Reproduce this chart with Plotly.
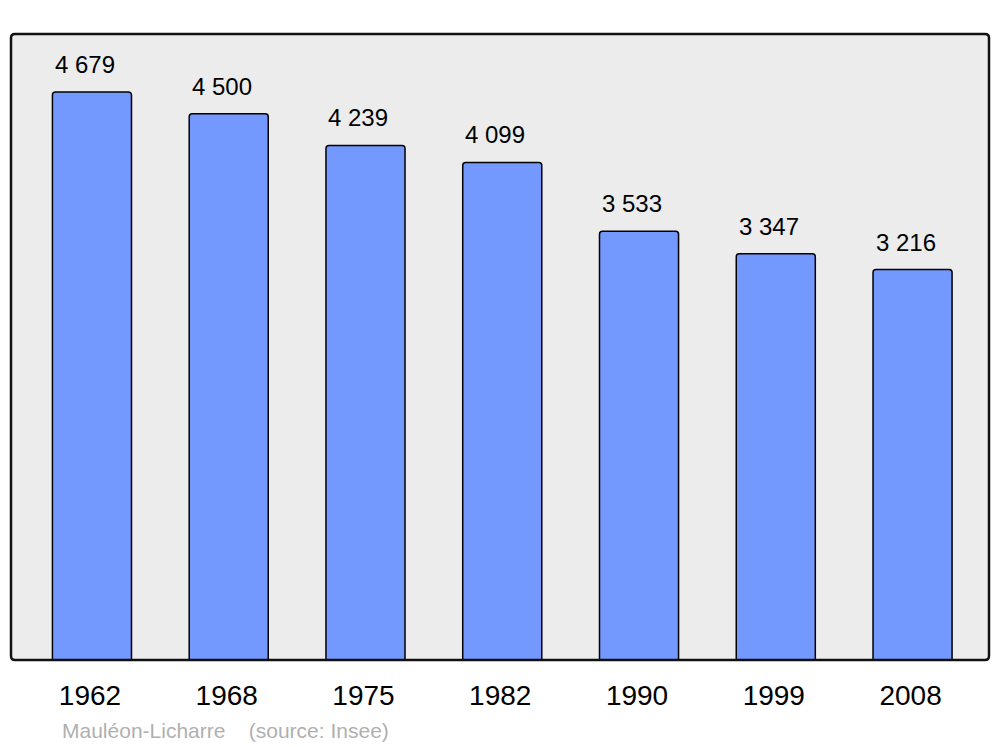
import plotly.graph_objects as go

years = ["1962", "1968", "1975", "1982", "1990", "1999", "2008"]
population = [4679, 4500, 4239, 4099, 3533, 3347, 3216]
caption = "Mauléon-Licharre&nbsp;&nbsp;&nbsp;&nbsp;(source: Insee)"

W, H = 1000, 747
L, R, T, B = 11, 11, 34, 87
xpos = list(range(len(years)))
xr = [-0.592, 6.559]
yr = [0, 5157]

fig = go.Figure()
fig.add_trace(go.Bar(
    x=xpos, y=population, width=0.578,
    marker=dict(color="#7399ff", line=dict(color="black", width=1.5), cornerradius=3),
    hoverinfo="skip",
))

for xi, v in zip(xpos, population):
    fig.add_annotation(x=xi, y=v, xref="x", yref="y", text=f"{v:,}".replace(",", " "),
                       showarrow=False, yanchor="bottom", yshift=12, xshift=-7,
                       font=dict(family="Liberation Sans, Arial, sans-serif", size=24, color="black"))

fig.add_annotation(x=(60 - L) / (W - L - R), y=(660 - 730) / (H - T - B), xref="paper", yref="paper",
                   text=caption, showarrow=False, xanchor="left", yanchor="middle",
                   font=dict(family="Liberation Sans, Arial, sans-serif", size=21, color="#b0b0b0"))

# rounded plot frame
pw, ph = W - L - R, H - T - B
r = 4
rx, ry = r / pw, r / ph
path = (f"M {rx},0 L {1-rx},0 Q 1,0 1,{ry} L 1,{1-ry} Q 1,1 {1-rx},1 "
        f"L {rx},1 Q 0,1 0,{1-ry} L 0,{ry} Q 0,0 {rx},0 Z")
fig.add_shape(type="path", path=path, xref="paper", yref="paper",
              fillcolor="#ececec", line=dict(width=0), layer="below")
fig.add_shape(type="path", path=path, xref="paper", yref="paper",
              fillcolor="rgba(0,0,0,0)", line=dict(color="#111111", width=2.5), layer="above")

fig.update_layout(
    width=W, height=H,
    margin=dict(l=L, r=R, t=T, b=B),
    paper_bgcolor="white", plot_bgcolor="rgba(0,0,0,0)",
    showlegend=False,
    xaxis=dict(range=xr, tickmode="array", tickvals=xpos, ticktext=years,
               showgrid=False, zeroline=False, showline=False, ticks="",
               tickfont=dict(family="Liberation Sans, Arial, sans-serif", size=28, color="black"),
               ticklabelstandoff=16, ticklabelshift=-2, fixedrange=True),
    yaxis=dict(range=yr, visible=False, showgrid=False, zeroline=False, fixedrange=True),
)

fig.write_html("out.html", config={"displayModeBar": False},
               post_script="document.body.style.margin='0px';document.body.style.padding='0px';")
